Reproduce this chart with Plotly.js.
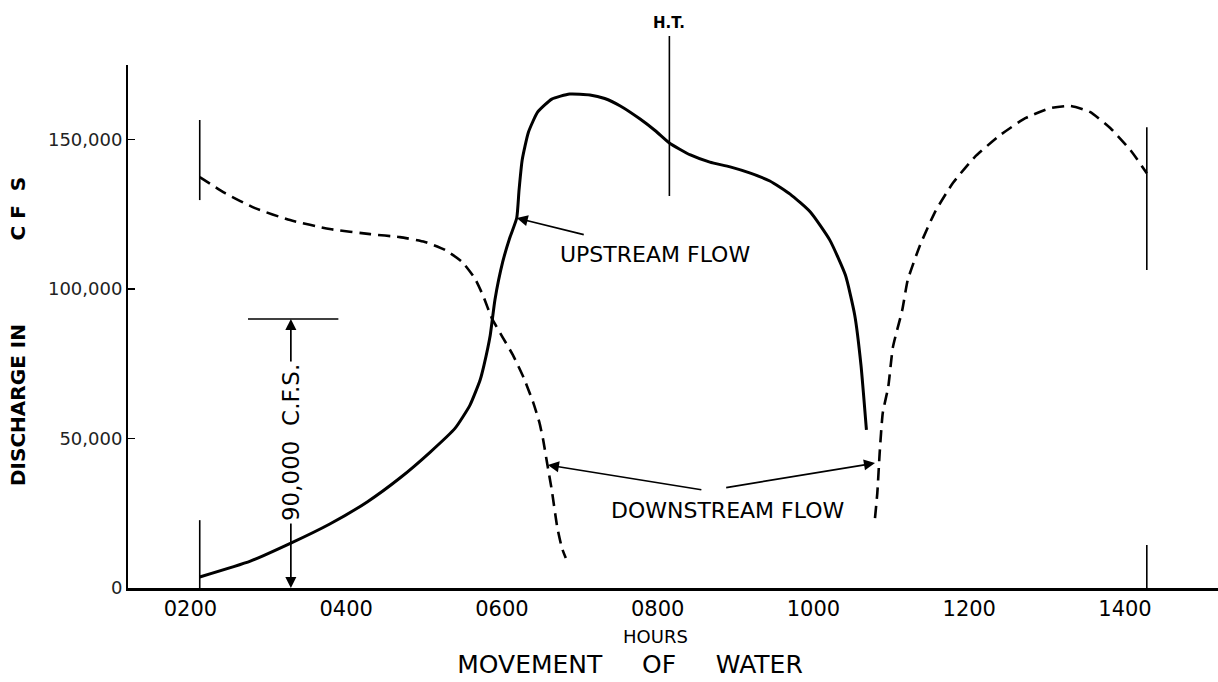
<!DOCTYPE html>
<html>
<head>
<meta charset="utf-8">
<script src="https://cdn.plot.ly/plotly-3.0.1.min.js"></script>
<style>html,body{margin:0;padding:0;background:#fff;}#chart{width:1218px;height:682px;}</style>
</head>
<body>
<div id="chart"></div>
<script>
// ---- data (hours after midnight, discharge in c.f.s.) ----
const upstreamHours = [2.12, 2.77, 3.29, 3.79, 4.27, 4.69, 5.08, 5.40, 5.59, 5.72, 5.77, 5.85, 5.91, 6.01, 6.10, 6.19, 6.22, 6.26, 6.34, 6.46, 6.64, 6.87, 7.13, 7.32, 7.52, 7.77, 7.97, 8.15, 8.42, 8.67, 8.93, 9.19, 9.44, 9.70, 9.96, 10.21, 10.41, 10.53, 10.61, 10.68];
const upstreamCfs = [3700, 9000, 15000, 21400, 28800, 36800, 45500, 53500, 61200, 69600, 74600, 84600, 96400, 109100, 117100, 123800, 133200, 143200, 152500, 159300, 163600, 165300, 165000, 163800, 161300, 157000, 153000, 148900, 144900, 142500, 140900, 138800, 136200, 131800, 125800, 116400, 104700, 91300, 74600, 52900];

const downstreamEbbHours = [2.12, 2.44, 2.83, 3.28, 3.79, 4.31, 4.69, 5.01, 5.27, 5.49, 5.65, 5.76, 5.87, 6.00, 6.14, 6.28, 6.40, 6.48, 6.53, 6.58, 6.64, 6.71, 6.77, 6.82];
const downstreamEbbCfs = [137500, 132200, 127100, 123100, 120100, 118400, 117400, 115800, 113100, 109100, 103700, 97700, 90300, 84300, 78000, 70300, 62200, 55500, 49500, 41800, 32800, 20400, 13400, 10000];

const downstreamNextHours = [10.79, 10.82, 10.85, 10.89, 10.96, 11.02, 11.14, 11.21, 11.37, 11.56, 11.79, 12.07, 12.40, 12.72, 13.04, 13.30, 13.55, 13.81, 14.07, 14.28];
const downstreamNextCfs = [23400, 31800, 45200, 58600, 67300, 80600, 93000, 103000, 114800, 125800, 135500, 144200, 151600, 157200, 160600, 161300, 159300, 153900, 146500, 138800];

const hourTicks = [2, 4, 6, 8, 10, 12, 14];
const hourLabels = ['0200', '0400', '0600', '0800', '1000', '1200', '1400'];
const cfsTicks = [0, 50000, 100000, 150000];
const cfsLabels = ['0', '50,000', '100,000', '150,000'];

const highTideHour = 8.15;
const startHour = 2.12;
const endHour = 14.28;
const markedFlow = 90000;
const markedFlowHour = 3.29;

const FONT = 'DejaVu Sans, Liberation Sans, Arial, sans-serif';
const NB = '\u00A0';
const gap = n => NB.repeat(n);

const traces = [
  {x: upstreamHours, y: upstreamCfs, mode: 'lines', type: 'scatter',
   line: {color: '#000', width: 3, shape: 'spline', smoothing: 0.5}, hoverinfo: 'skip'},
  {x: downstreamEbbHours, y: downstreamEbbCfs, mode: 'lines', type: 'scatter',
   line: {color: '#000', width: 2.6, dash: '12px,7px', shape: 'spline', smoothing: 0.5}, hoverinfo: 'skip'},
  {x: downstreamNextHours, y: downstreamNextCfs, mode: 'lines', type: 'scatter',
   line: {color: '#000', width: 2.6, dash: '12px,7px', shape: 'spline', smoothing: 0.5}, hoverinfo: 'skip'}
];

const lineStyle = {color: '#000', width: 1.6};
const shapes = [
  {type: 'line', xref: 'x', yref: 'y', x0: 2.74, x1: 3.90, y0: markedFlow, y1: markedFlow, line: lineStyle},
  {type: 'line', xref: 'x', yref: 'y', x0: startHour, x1: startHour, y0: 129800, y1: 156600, line: lineStyle},
  {type: 'line', xref: 'x', yref: 'y', x0: startHour, x1: startHour, y0: 0, y1: 22700, line: lineStyle},
  {type: 'line', xref: 'x', yref: 'y', x0: endHour, x1: endHour, y0: 106400, y1: 154200, line: lineStyle},
  {type: 'line', xref: 'x', yref: 'y', x0: endHour, x1: endHour, y0: 0, y1: 14400, line: lineStyle},
  {type: 'line', xref: 'x', yref: 'paper', x0: highTideHour, x1: highTideHour, y0: 0.7495, y1: 1.0554, line: lineStyle}
];

const arrow = (x, y, ax, ay) => ({
  x: x, y: y, ax: ax, ay: ay, xref: 'x', yref: 'y', axref: 'x', ayref: 'y',
  text: '', showarrow: true, arrowhead: 2, arrowsize: 1.3, arrowwidth: 1.7, arrowcolor: '#000', standoff: 0
});

const annotations = [
  arrow(markedFlowHour, markedFlow, markedFlowHour, 48800),
  arrow(markedFlowHour, 0, markedFlowHour, 48800),
  {x: markedFlowHour, y: 48800, xref: 'x', yref: 'y', text: '90,000' + gap(2) + 'C.F.S.', showarrow: false,
   textangle: -90, bgcolor: '#fff', borderpad: 2, font: {family: FONT, size: 23, color: '#000'}},
  arrow(6.19, 123800, 7.07, 118100),
  {x: 7.97, y: 111700, xref: 'x', yref: 'y', text: 'UPSTREAM FLOW', showarrow: false,
   font: {family: FONT, size: 22, color: '#000'}},
  arrow(6.59, 41150, 8.58, 32800),
  arrow(10.79, 41800, 8.86, 33500),
  {x: 8.90, y: 25800, xref: 'x', yref: 'y', text: 'DOWNSTREAM FLOW', showarrow: false,
   font: {family: FONT, size: 22, color: '#000'}},
  {x: highTideHour, y: (588 - 23) / 523, xref: 'x', yref: 'paper', yanchor: 'middle', text: '<b>H.T.</b>', showarrow: false,
   font: {family: FONT, size: 15, color: '#000'}},
  {x: (655 - 128) / 1090, y: (588 - 636) / 523, xref: 'paper', yref: 'paper', yanchor: 'middle', xanchor: 'center',
   text: 'HOURS', showarrow: false, font: {family: FONT, size: 18, color: '#000'}},
  {x: (18 - 128) / 1090, y: (588 - 332) / 523, xref: 'paper', yref: 'paper', yanchor: 'middle', xanchor: 'center',
   text: '<b>DISCHARGE IN' + gap(12) + 'C' + gap(1) + 'F' + gap(2) + 'S</b>',
   showarrow: false, textangle: -90, font: {family: FONT, size: 20, color: '#000'}}
];

const layout = {
  width: 1218, height: 682,
  margin: {l: 128, r: 0, t: 65, b: 94, pad: 0},
  paper_bgcolor: '#fff', plot_bgcolor: '#fff',
  showlegend: false,
  title: {text: 'MOVEMENT' + gap(5) + 'OF' + gap(5) + 'WATER', xref: 'paper', x: (630 - 128) / 1090, xanchor: 'center',
          yref: 'container', y: 1 - 664 / 682, yanchor: 'middle',
          font: {family: FONT, size: 25, color: '#000'}},
  xaxis: {range: [1.199, 15.194], tickvals: hourTicks, ticktext: hourLabels, showline: true, linewidth: 3,
          linecolor: '#000', ticks: '', showgrid: false, zeroline: false,
          tickfont: {family: FONT, size: 21, color: '#000'}, fixedrange: true},
  yaxis: {range: [0, 175000], tickvals: cfsTicks, ticktext: cfsLabels, showline: true, linewidth: 2,
          linecolor: '#000', ticks: 'inside', ticklen: 7, tickwidth: 1.5, tickcolor: '#000',
          showgrid: false, zeroline: false, tickfont: {family: FONT, size: 18, color: '#222'}, fixedrange: true},
  shapes: shapes,
  annotations: annotations
};

Plotly.newPlot('chart', traces, layout, {staticPlot: true, displayModeBar: false});
</script>
</body>
</html>
